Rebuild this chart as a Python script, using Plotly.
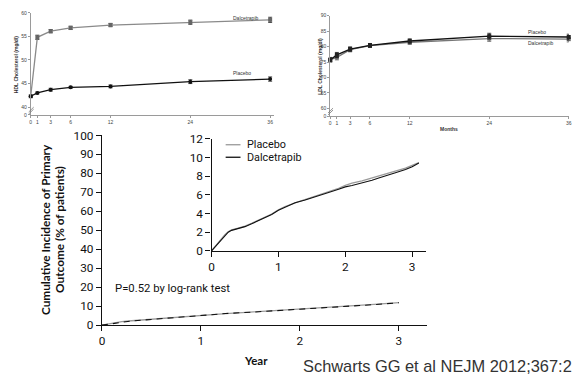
import plotly.graph_objects as go

W, H = 575, 380

# ---------------- data ----------------
months = [0, 1, 3, 6, 12, 24, 36]
month_labels = ["0", "1", "3", "6", "12", "24", "36"]

hdl_dalcetrapib = [42.3, 54.8, 56.1, 56.8, 57.4, 58.0, 58.5]
hdl_dalcetrapib_err = [0.2, 0.45, 0.35, 0.35, 0.35, 0.45, 0.55]
hdl_placebo = [42.3, 43.0, 43.7, 44.2, 44.4, 45.4, 45.95]
hdl_placebo_err = [0.2, 0.2, 0.3, 0.2, 0.3, 0.4, 0.45]
hdl_ticks = [38.36, 40, 45, 50, 55, 60]
hdl_ticktext = ["0", "40", "45", "50", "55", "60"]

ldl_placebo = [75.7, 77.3, 79.2, 80.4, 81.8, 83.4, 83.1]
ldl_placebo_err = [0.7, 0.8, 0.7, 0.6, 0.7, 0.9, 0.9]
ldl_dalcetrapib = [75.8, 76.5, 79.0, 80.3, 81.4, 82.6, 82.4]
ldl_dalcetrapib_err = [0.7, 0.8, 0.7, 0.6, 0.7, 0.9, 0.9]
ldl_ticks = [57.5, 60, 65, 70, 75, 80, 85, 90]
ldl_ticktext = ["0", "60", "65", "70", "75", "80", "85", "90"]

main_years = [0, 0.1, 0.2, 0.3, 0.5, 0.75, 1.0, 1.25, 1.5, 1.75, 2.0, 2.25, 2.5, 2.75, 3.0]
main_placebo = [0, 0.9, 1.8, 2.3, 3.1, 4.2, 5.4, 6.1, 6.9, 7.7, 8.5, 9.2, 9.9, 10.9, 11.9]
main_dalcetrapib = [0, 0.8, 1.7, 2.2, 3.0, 4.1, 5.3, 6.1, 6.8, 7.6, 8.4, 9.1, 9.8, 10.8, 11.8]

inset_years = [0, 0.05, 0.1, 0.15, 0.2, 0.25, 0.3, 0.4, 0.5, 0.6, 0.75, 0.9, 1.0, 1.1, 1.25,
               1.4, 1.5, 1.6, 1.75, 1.9, 2.0, 2.1, 2.25, 2.4, 2.5, 2.6, 2.75, 2.9, 3.0, 3.1]
inset_placebo = [0, 0.45, 0.9, 1.35, 1.75, 2.05, 2.25, 2.45, 2.65, 2.95, 3.45, 3.95, 4.4, 4.75, 5.15,
                 5.5, 5.75, 6.0, 6.3, 6.7, 7.0, 7.25, 7.5, 7.8, 8.05, 8.25, 8.5, 8.85, 9.15, 9.45]
inset_dalcetrapib = [0, 0.4, 0.85, 1.3, 1.7, 2.0, 2.2, 2.4, 2.6, 2.9, 3.4, 3.9, 4.35, 4.7, 5.15,
                     5.45, 5.7, 5.95, 6.25, 6.6, 6.85, 7.0, 7.25, 7.55, 7.8, 8.0, 8.35, 8.7, 9.0, 9.4]


def px(x):
    return x / W


def py(y):
    return 1 - y / H


GRAY = "#8a8a8a"
DARK = "#222222"
TOPFONT = dict(family="Liberation Sans, Arial", size=5, color="#444")

fig = go.Figure()

# ---------------- HDL (top-left) ----------------
fig.add_trace(go.Scatter(x=months, y=hdl_dalcetrapib, mode="lines+markers", xaxis="x", yaxis="y",
                         line=dict(color=GRAY, width=1.3),
                         marker=dict(symbol="square", size=4, color="#666"),
                         error_y=dict(type="data", array=hdl_dalcetrapib_err, color=DARK, thickness=0.8, width=2),
                         cliponaxis=False, showlegend=False))
fig.add_trace(go.Scatter(x=months, y=hdl_placebo, mode="lines+markers", xaxis="x", yaxis="y",
                         line=dict(color="#111", width=1.3),
                         marker=dict(symbol="circle", size=4, color="#111"),
                         error_y=dict(type="data", array=hdl_placebo_err, color="#111", thickness=0.8, width=2),
                         cliponaxis=False, showlegend=False))

# ---------------- LDL (top-right) ----------------
fig.add_trace(go.Scatter(x=months, y=ldl_dalcetrapib, mode="lines+markers", xaxis="x2", yaxis="y2",
                         line=dict(color="#777", width=1.3),
                         marker=dict(symbol="square", size=4, color="#666"),
                         error_y=dict(type="data", array=ldl_dalcetrapib_err, color="#555", thickness=0.8, width=2),
                         cliponaxis=False, showlegend=False))
fig.add_trace(go.Scatter(x=months, y=ldl_placebo, mode="lines+markers", xaxis="x2", yaxis="y2",
                         line=dict(color="#111", width=1.3),
                         marker=dict(symbol="square", size=4, color="#222"),
                         error_y=dict(type="data", array=ldl_placebo_err, color="#111", thickness=0.8, width=2),
                         cliponaxis=False, showlegend=False))

# ---------------- Main KM (bottom) ----------------
fig.add_trace(go.Scatter(x=main_years, y=main_placebo, mode="lines", xaxis="x3", yaxis="y3",
                         line=dict(color="#9a9a9a", width=1.3), showlegend=False))
fig.add_trace(go.Scatter(x=main_years, y=main_dalcetrapib, mode="lines", xaxis="x3", yaxis="y3",
                         line=dict(color="#111", width=1.1, dash="6px,5px"), showlegend=False))

# ---------------- Inset KM ----------------
fig.add_trace(go.Scatter(x=inset_years, y=inset_placebo, mode="lines", xaxis="x4", yaxis="y4",
                         line=dict(color="#9a9a9a", width=1.3), showlegend=False))
fig.add_trace(go.Scatter(x=inset_years, y=inset_dalcetrapib, mode="lines", xaxis="x4", yaxis="y4",
                         line=dict(color="#111", width=1.1), showlegend=False))

top_axis = dict(showgrid=False, zeroline=False, showline=True, linecolor="#9a9a9a", linewidth=1,
                ticks="outside", ticklen=2, tickcolor="#9a9a9a", tickfont=TOPFONT)
main_font = dict(family="Roboto", size=11.8, color="#111")
main_axis = dict(showgrid=False, zeroline=False, showline=True, linecolor="#111", linewidth=1.3,
                 ticks="outside", ticklen=5, tickcolor="#111", tickwidth=1, tickfont=main_font)

fig.update_layout(
    width=W, height=H, margin=dict(l=0, r=0, t=0, b=0),
    paper_bgcolor="white", plot_bgcolor="rgba(0,0,0,0)",
    xaxis=dict(top_axis, domain=[px(28), px(274)], range=[0, 36.6], tickvals=months, ticktext=month_labels,
               anchor="y"),
    yaxis=dict(top_axis, domain=[py(112), py(6)], range=[38.36, 60], tickvals=hdl_ticks, ticktext=hdl_ticktext,
               anchor="x"),
    xaxis2=dict(top_axis, domain=[px(330.7), px(571.7)], range=[0, 36], tickvals=months, ticktext=month_labels,
                anchor="y2"),
    yaxis2=dict(top_axis, domain=[py(113.3), py(9)], range=[57.5, 90], tickvals=ldl_ticks, ticktext=ldl_ticktext,
                anchor="x2"),
    xaxis3=dict(main_axis, domain=[px(100), px(428)], range=[0, 3.28], tickvals=[0, 1, 2, 3], anchor="y3"),
    yaxis3=dict(main_axis, domain=[py(330.3), py(133.3)], range=[0, 100], tickvals=list(range(0, 101, 10)),
                anchor="x3"),
    xaxis4=dict(main_axis, domain=[px(210.7), px(427)], range=[0, 3.2], tickvals=[0, 1, 2, 3], anchor="y4"),
    yaxis4=dict(main_axis, domain=[py(253.3), py(136.7)], range=[0, 12], tickvals=list(range(0, 13, 2)),
                anchor="x4"),
)

ann = []


def text(x, y, s, size, family="Liberation Sans, Arial", color="#333", angle=0, xanchor="left", bold=False):
    ann.append(dict(x=px(x), y=py(y), xref="paper", yref="paper", text=("<b>%s</b>" % s) if bold else s,
                    showarrow=False, xanchor=xanchor, yanchor="middle", textangle=angle,
                    font=dict(family=family, size=size, color=color)))


text(230, 11, "Dalcetrapib", 5)
text(230, 69, "Placebo", 5)
text(12.5, 60, "HDL Cholesterol (mg/dl)", 5, angle=-90, xanchor="center", bold=True)
text(529, 26, "Placebo", 5)
text(529, 37, "Dalcetrapib", 5)
text(320.5, 62, "LDL Cholesterol (mg/dl)", 5, angle=-90, xanchor="center", bold=True)
text(451, 127, "Months", 5, xanchor="center", bold=True)

text(43, 231, "Cumulative Incidence of Primary", 11.8, family="Lato", color="#111", angle=-90, xanchor="center",
     bold=True)
text(57, 231, "Outcome (% of patients)", 11.8, family="Lato", color="#111", angle=-90, xanchor="center", bold=True)
text(111, 292, "P=0.52 by log-rank test", 11.3, family="Roboto", color="#111")
text(256, 367, "Year", 11.5, family="Lato", color="#111", xanchor="center", bold=True)
text(301, 373, "Schwarts GG et al NEJM 2012;367:2", 16.4, family="Liberation Sans, Arial", color="#333")

# legend in inset
text(245, 143, "Placebo", 10.8, family="Roboto", color="#111")
text(245, 156, "Dalcetrapib", 10.8, family="Roboto", color="#111")
fig.update_layout(annotations=ann)

shapes = [
    dict(type="line", xref="paper", yref="paper", x0=px(225), x1=px(240), y0=py(143), y1=py(143),
         line=dict(color="#9a9a9a", width=1.3)),
    dict(type="line", xref="paper", yref="paper", x0=px(225), x1=px(240), y0=py(156), y1=py(156),
         line=dict(color="#111", width=1.3)),
    # axis break marks
    dict(type="line", xref="paper", yref="paper", x0=px(26), x1=px(31), y0=py(109), y1=py(104),
         line=dict(color="#777", width=0.8)),
    dict(type="line", xref="paper", yref="paper", x0=px(26), x1=px(31), y0=py(111), y1=py(106),
         line=dict(color="#777", width=0.8)),
    dict(type="line", xref="paper", yref="paper", x0=px(328.5), x1=px(333.5), y0=py(110), y1=py(105),
         line=dict(color="#777", width=0.8)),
    dict(type="line", xref="paper", yref="paper", x0=px(328.5), x1=px(333.5), y0=py(112), y1=py(107),
         line=dict(color="#777", width=0.8)),
]
fig.update_layout(shapes=shapes)

fig.write_html("out.html")
